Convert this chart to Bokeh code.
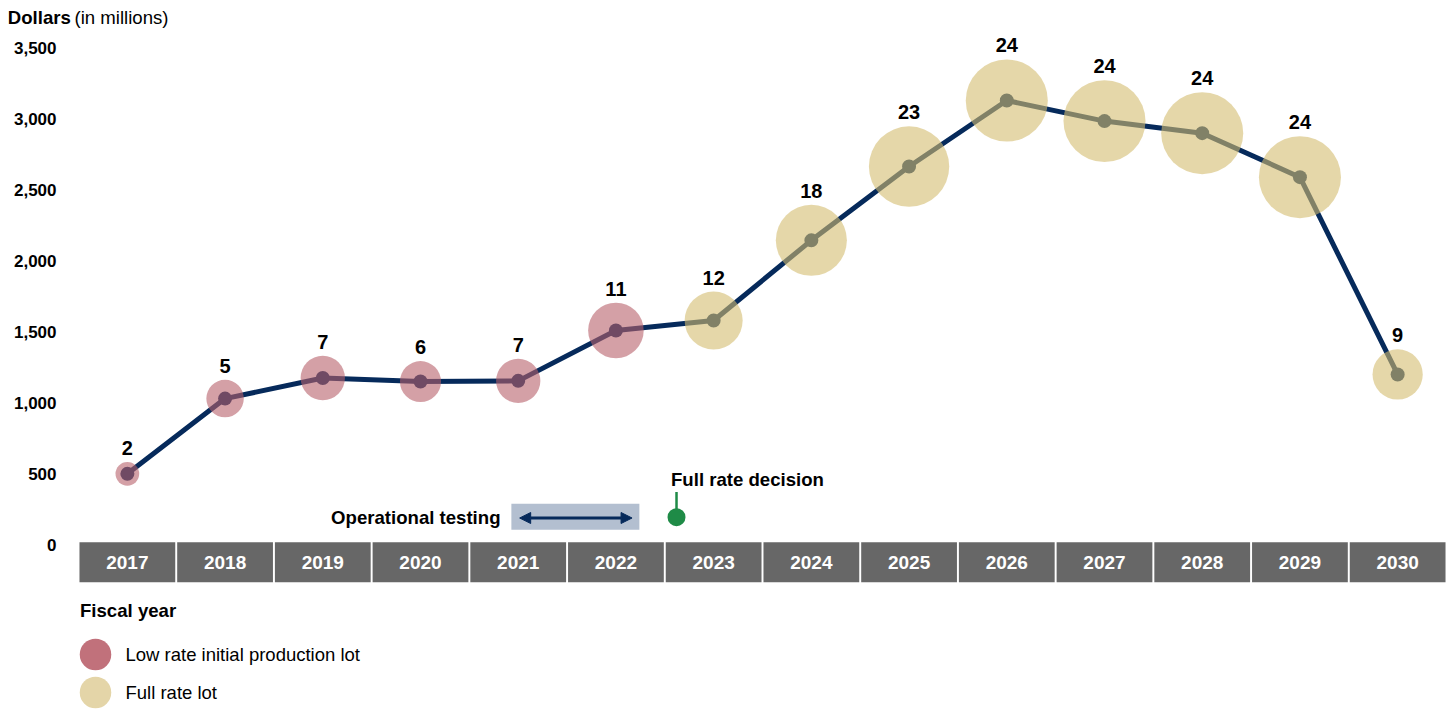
import numpy as np
from bokeh.plotting import figure
from bokeh.models import ColumnDataSource, Arrow, NormalHead, Range1d
from bokeh.embed import file_html
from bokeh.resources import INLINE
from bokeh.core.properties import value

# ---------------- data ----------------
years = [2017, 2018, 2019, 2020, 2021, 2022, 2023, 2024, 2025, 2026, 2027, 2028, 2029, 2030]
funding = [500, 1030, 1175, 1150, 1155, 1510, 1580, 2145, 2665, 3130, 2985, 2900, 2590, 1200]
aircraft = [2, 5, 7, 6, 7, 11, 12, 18, 23, 24, 24, 24, 24, 9]
lot_type = ["lrip"] * 6 + ["full"] * 8
lot_names = ["Low rate initial production lot", "Full rate lot"]
y_ticks = [0, 500, 1000, 1500, 2000, 2500, 3000, 3500]
y_tick_labels = [f"{t:,}" for t in y_ticks]
year_labels = [str(y) for y in years]
test_window = (2020.93, 2022.24)      # operational testing span (fiscal years)
full_rate_decision = 2022.62          # full rate decision point

# ---------------- geometry / styles ----------------
W, H = 1452, 710
PX_PER_X = 1368.0 / 14.0
X0 = 2016.5 - 78.0 / PX_PER_X
X1 = X0 + W / PX_PER_X
Y_ZERO_PX = 544.3
PX_PER_Y = 496.8 / 3500.0


def dx(px):
    return X0 + px / PX_PER_X


def dy(px):
    return (Y_ZERO_PX - px) / PX_PER_Y


FONT = "Liberation Sans"
NAVY = "#062a5b"
BUBBLE = {"lrip": "#b7616a", "full": "#d4bc70"}
SWATCH = ["#c1717b", "#e4d5a8"]
BOX_GREY = "#676767"
GREEN = "#1f8b47"

p = figure(width=W, height=H, x_range=Range1d(X0, X1), y_range=Range1d(dy(H), dy(0)),
           output_backend="svg", toolbar_location=None, x_axis_location=None,
           y_axis_location=None, min_border_left=0, min_border_right=0,
           min_border_top=0, min_border_bottom=0, outline_line_color=None,
           background_fill_color="white", border_fill_color="white")
p.xgrid.grid_line_color = None
p.ygrid.grid_line_color = None


def txt(x, y, text, size="18.6px", bold=True, color="black", align="left",
        baseline="middle", **kw):
    return p.text(x=x, y=y, text=text, text_color=color, text_font=value(FONT),
                  text_font_style="bold" if bold else "normal", text_font_size=size,
                  text_align=align, text_baseline=baseline, **kw)


# y axis tick labels
txt([dx(56)] * len(y_ticks), y_ticks, y_tick_labels, size="17px", align="right")

sizes = [16.75 * np.sqrt(n) for n in aircraft]
src = ColumnDataSource(dict(
    x=years, y=funding, n=[str(n) for n in aircraft], size=sizes,
    color=[BUBBLE[t] for t in lot_type],
    off=[-(s / 2 + 14) for s in sizes],
))

# year boxes (category band)
band_y = dy(561.7)
p.rect(x=years, y=[band_y] * len(years), width=0.98, height=40, height_units="screen",
       fill_color=BOX_GREY, line_color=None)
txt(years, [band_y] * len(years), year_labels, size="19px", color="white", align="center")

# funding line and points
p.line("x", "y", source=src, line_color=NAVY, line_width=5)
p.scatter("x", "y", source=src, size=14, fill_color=NAVY, line_color=None)
# bubbles (aircraft quantity)
p.scatter("x", "y", source=src, size="size", fill_color="color", fill_alpha=0.6,
          line_color=None)
p.text("x", "y", text="n", source=src, y_offset="off", text_color="black",
       text_font=value(FONT), text_font_style="bold", text_font_size="20px",
       text_align="center", text_baseline="middle")

# operational testing
ann_y = dy(517.5)
p.rect(x=[(test_window[0] + test_window[1]) / 2], y=[dy(516.3)],
       width=test_window[1] - test_window[0], height=26, height_units="screen",
       fill_color="#b3bfd0", line_color=None)
p.add_layout(Arrow(x_start=test_window[0] + 0.085, y_start=ann_y,
                   x_end=test_window[1] - 0.075, y_end=ann_y,
                   line_color=NAVY, line_width=3,
                   start=NormalHead(size=11, fill_color=NAVY, line_color=NAVY, line_width=1),
                   end=NormalHead(size=11, fill_color=NAVY, line_color=NAVY, line_width=1)))
txt([dx(500)], [dy(517)], ["Operational testing"], align="right")

# full rate decision
p.segment(x0=[full_rate_decision], y0=[dy(491.5)], x1=[full_rate_decision], y1=[dy(512)],
          line_color=GREEN, line_width=2.5)
p.scatter(x=[full_rate_decision], y=[dy(516.7)], size=18, fill_color=GREEN, line_color=None)
txt([dx(670.5)], [dy(479.3)], ["Full rate decision"])

# legend (manual)
txt([dx(79.5)], [dy(609.5)], ["Fiscal year"])
leg_y = [dy(654), dy(692)]
p.scatter(x=[dx(95)] * 2, y=leg_y, size=31.5, fill_color=SWATCH, line_color=None)
txt([dx(125)] * 2, leg_y, lot_names, size="18.5px", bold=False)

# axis title
txt([dx(7.3)], [dy(16.5)], ["Dollars"])
txt([dx(74)], [dy(16.5)], ["(in millions)"], bold=False)

open("out.html", "w").write(file_html(p, INLINE))
